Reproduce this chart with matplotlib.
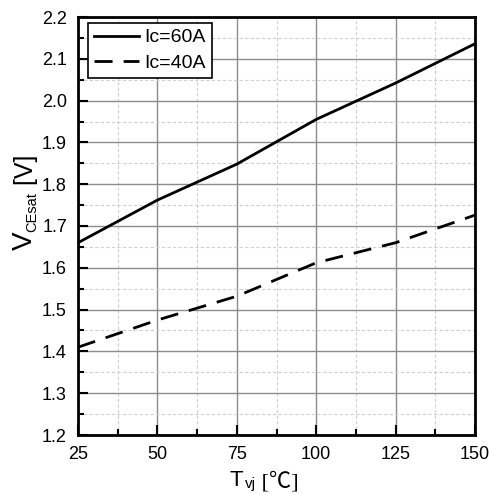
import numpy as np
import matplotlib.pyplot as plt
from matplotlib.ticker import MultipleLocator

temps = [25, 50, 75, 100, 125, 150]
v_60a = [1.66, 1.762, 1.848, 1.955, 2.042, 2.136]
v_40a = [1.41, 1.475, 1.532, 1.612, 1.66, 1.726]

plt.rcParams['font.family'] = ['Liberation Sans', 'DejaVu Sans']

W, H = 492, 494
fig = plt.figure(figsize=(W / 100, H / 100), dpi=100)
ax = fig.add_axes([78 / W, 1 - 435 / H, 397 / W, 418 / H])

ax.plot(temps, v_60a, color='black', lw=2, label='Ic=60A')
ax.plot(temps, v_40a, color='black', lw=2, ls=(0, (6.5, 4)), label='Ic=40A')

ax.set_xlim(25, 150)
ax.set_ylim(1.2, 2.2)
ax.xaxis.set_major_locator(MultipleLocator(25))
ax.xaxis.set_minor_locator(MultipleLocator(12.5))
ax.yaxis.set_major_locator(MultipleLocator(0.1))
ax.yaxis.set_minor_locator(MultipleLocator(0.05))
ax.yaxis.set_major_formatter(plt.FormatStrFormatter('%.1f'))

ax.grid(which='major', color='#8c8c8c', lw=1)
ax.grid(which='minor', color='#d0d0d0', lw=0.8, ls=(0, (3, 2)))
ax.set_axisbelow(True)

ax.tick_params(which='both', direction='in', width=1.5, labelsize=13,
               top=False, right=False)
ax.tick_params(which='major', length=7, pad=8)
ax.tick_params(which='minor', length=4)
for s in ax.spines.values():
    s.set_linewidth(2)


def px(x, y):
    return x / W, 1 - y / H


# y label: V + small CEsat + [V], rotated
t1 = fig.text(*px(38, 250), 'V', fontsize=20, rotation=90, ha='right', va='bottom')
t2 = ax.annotate('CEsat', xy=(1, 1), xycoords=t1, xytext=(1, 0), textcoords='offset points',
                 fontsize=10.5, rotation=90, ha='right', va='bottom', annotation_clip=False)
t3 = ax.annotate(' [V]', xy=(1, 1), xycoords=t2, xytext=(-1, 0), textcoords='offset points',
                 fontsize=18, rotation=90, ha='right', va='bottom', annotation_clip=False)

# x label: T + small vj + [℃]
x1 = fig.text(*px(230, 491), 'T', fontsize=16, ha='left', va='bottom')
x2 = ax.annotate('vj', xy=(1, 0), xycoords=x1, xytext=(1, 0), textcoords='offset points',
                 fontsize=11, ha='left', va='bottom', annotation_clip=False)
x3 = ax.annotate(' [℃]', xy=(1, 0), xycoords=x2, xytext=(0, -1), textcoords='offset points',
                 fontsize=16, ha='left', va='bottom', annotation_clip=False,
                 family=['Liberation Serif', 'Noto Sans CJK SC'])

leg = ax.legend(loc='upper left', fontsize=14, frameon=True, fancybox=False,
                edgecolor='black', framealpha=1, handlelength=2.3, handletextpad=0.3,
                borderpad=0.3, labelspacing=0.4, borderaxespad=0,
                bbox_to_anchor=(10 / 397, 1 - 6 / 418))
leg.get_frame().set_linewidth(1.2)

fig.savefig('out.png', dpi=100)
